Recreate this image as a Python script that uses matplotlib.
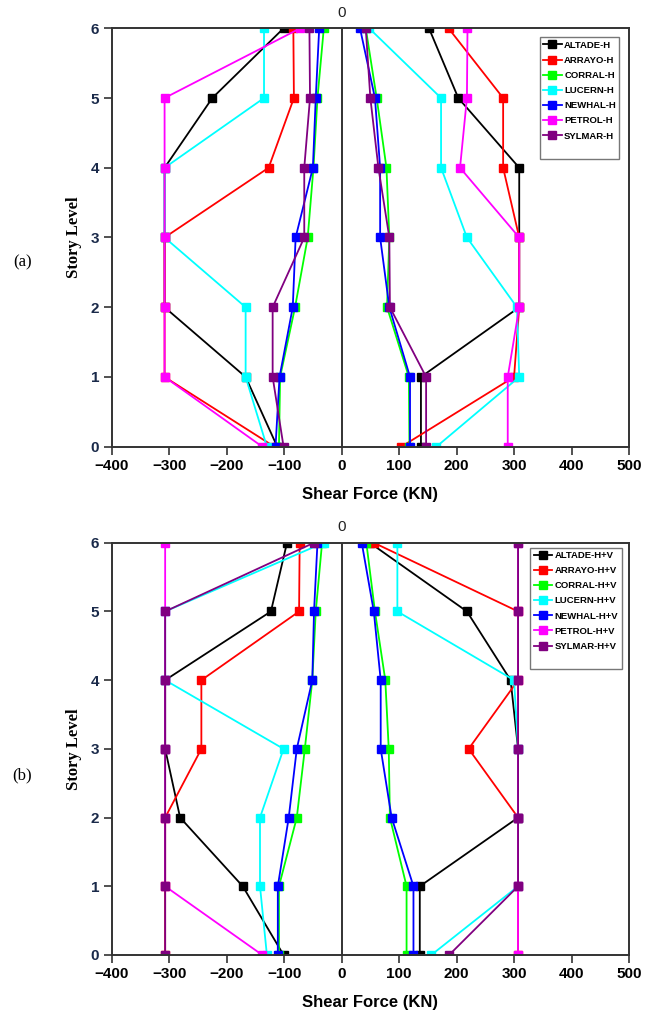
import matplotlib
matplotlib.use("Agg")
import matplotlib.pyplot as plt
from matplotlib.lines import Line2D

# story levels
levels = [0, 1, 2, 3, 4, 5, 6]
records = ["ALTADE", "ARRAYO", "CORRAL", "LUCERN", "NEWHAL", "PETROL", "SYLMAR"]
colors = ["#000000", "#ff0000", "#00ff00", "#00ffff", "#0000ff", "#ff00ff", "#800080"]

# (a) horizontal only - negative / positive shear per level (0..6)
h_neg = {
    "ALTADE": [-112, -167, -308, -308, -308, -225, -101],
    "ARRAYO": [-117, -308, -308, -308, -127, -83, -84],
    "CORRAL": [-109, -107, -81, -59, -49, -42, -31],
    "LUCERN": [-130, -167, -167, -308, -308, -135, -135],
    "NEWHAL": [-115, -108, -85, -80, -50, -45, -39],
    "PETROL": [-138, -308, -308, -308, -308, -308, -72],
    "SYLMAR": [-101, -120, -120, -65, -65, -55, -56],
}
h_pos = {
    "ALTADE": [138, 138, 309, 309, 309, 203, 152],
    "ARRAYO": [104, 300, 309, 309, 281, 281, 186],
    "CORRAL": [118, 117, 79, 83, 78, 61, 42],
    "LUCERN": [165, 309, 305, 218, 173, 173, 48],
    "NEWHAL": [119, 119, 83, 67, 67, 58, 32],
    "PETROL": [289, 289, 309, 309, 206, 218, 219],
    "SYLMAR": [147, 147, 84, 83, 64, 50, 42],
}

# (b) horizontal + vertical
hv_neg = {
    "ALTADE": [-101, -172, -281, -307, -307, -123, -95],
    "ARRAYO": [-307, -307, -307, -244, -244, -74, -73],
    "CORRAL": [-109, -109, -78, -64, -51, -45, -34],
    "LUCERN": [-130, -142, -142, -101, -307, -307, -31],
    "NEWHAL": [-111, -111, -92, -78, -51, -48, -42],
    "PETROL": [-138, -307, -307, -307, -307, -307, -307],
    "SYLMAR": [-307, -307, -307, -307, -307, -307, -48],
}
hv_pos = {
    "ALTADE": [136, 136, 307, 307, 294, 218, 49],
    "ARRAYO": [307, 307, 307, 221, 307, 307, 56],
    "CORRAL": [113, 113, 84, 82, 76, 58, 43],
    "LUCERN": [156, 307, 307, 307, 300, 97, 97],
    "NEWHAL": [125, 125, 87, 68, 68, 56, 35],
    "PETROL": [307, 307, 307, 307, 307, 307, 307],
    "SYLMAR": [187, 307, 307, 307, 307, 307, 307],
}

x_ticks = [-400, -300, -200, -100, 0, 100, 200, 300, 400, 500]
sans = ["Liberation Sans", "DejaVu Sans"]
serif = ["Liberation Serif", "DejaVu Serif"]


def draw_panel(ax, neg, pos, suffix, anchor):
    handles = []
    for name, c in zip(records, colors):
        h, = ax.plot(neg[name], levels, color=c, marker="s", markersize=6, lw=1.3,
                     label=name + suffix)
        ax.plot(pos[name], levels, color=c, marker="s", markersize=6, lw=1.3)
        handles.append(h)
    ax.axvline(0, color="#222222", lw=1.3, zorder=0)
    ax.set_xlim(-400, 500)
    ax.set_ylim(0, 6)
    ax.set_xticks(x_ticks)
    ax.set_xticklabels([str(t).replace("-", "\u2212") for t in x_ticks])
    ax.set_yticks(levels)
    for s in ax.spines.values():
        s.set_color("#333333")
        s.set_linewidth(1.4)
    ax.tick_params(direction="out", length=6, width=1.2, color="#333333", pad=3)
    for lab in ax.get_xticklabels() + ax.get_yticklabels():
        lab.set_family(sans)
        lab.set_fontweight("bold")
        lab.set_fontsize(11)
    for lab in ax.get_yticklabels():
        lab.set_color("#1a2a4a")
    ax.set_xlabel("Shear Force (KN)", family=sans, fontweight="bold",
                  fontsize=12, labelpad=10)
    ax.set_ylabel("Story Level", family=serif, fontweight="bold",
                  fontsize=12, labelpad=6)
    ax.text(0, 6.12, "0", ha="center", va="bottom", fontsize=11,
            family=sans, color="#222222")
    # blank entry leaves the empty strip at the bottom of the box
    blank = Line2D([], [], color="none")
    leg = ax.legend(handles + [blank], [h.get_label() for h in handles] + [" "],
                    loc="upper right", bbox_to_anchor=anchor, borderaxespad=0,
                    prop={"family": sans, "weight": "bold", "size": 6.8},
                    handlelength=2.0, handletextpad=0.25, labelspacing=0.65,
                    borderpad=0.35, fancybox=False, framealpha=1,
                    edgecolor="#777777")
    leg.get_frame().set_linewidth(1.0)


fig = plt.figure(figsize=(6.59, 10.25), dpi=100)
ax1 = fig.add_axes([0.1695, 0.5642, 0.785, 0.4082])
ax2 = fig.add_axes([0.1695, 0.0683, 0.785, 0.4022])

draw_panel(ax1, h_neg, h_pos, "-H", (0.981, 0.978))
draw_panel(ax2, hv_neg, hv_pos, "-H+V", (0.986, 0.988))

fig.text(0.034, 0.744, "(a)", family=serif, fontsize=12, ha="center", va="center")
fig.text(0.034, 0.244, "(b)", family=serif, fontsize=12, ha="center", va="center")

fig.savefig("out.png", dpi=100)
